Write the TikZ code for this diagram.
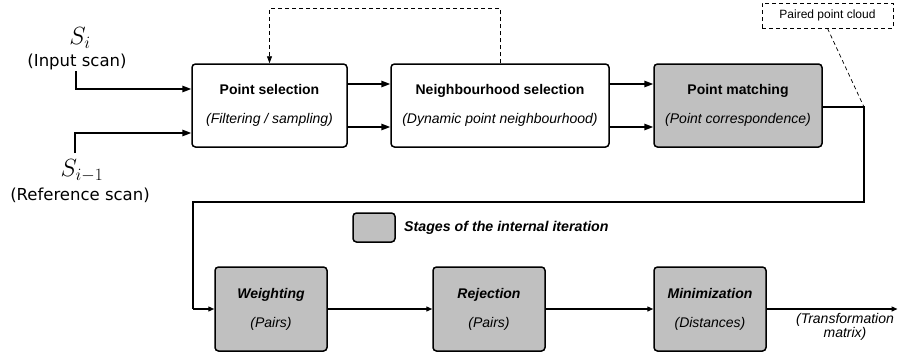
\documentclass[tikz,border=0pt]{standalone}
\usepackage{fontspec}
\setmainfont{Liberation Sans}
\newfontfamily\dejavu{DejaVu Sans}
\usetikzlibrary{arrows.meta,calc}
\definecolor{stagegray}{RGB}{192,192,192}
\begin{document}
\begin{tikzpicture}[x=1pt,y=-1pt,
  box/.style={draw=black,line width=1.5pt,rounded corners=3.5pt,align=center,inner sep=0pt,
    font=\fontsize{14}{16}\selectfont},
  gbox/.style={box,fill=stagegray},
  arr/.style={line width=1.5pt,-{Triangle[length=9pt,width=6.5pt]}},
  arrs/.style={line width=1.3pt,-{Triangle[length=6pt,width=5pt]}},
  conn/.style={line width=1.5pt},
  dashln/.style={line width=0.8pt,dash pattern=on 4pt off 3pt}]
\useasboundingbox (0,0) rectangle (898,354);
% top boxes
\node[box,minimum width=155pt,minimum height=83pt] (ps) at (269.5,105.5)
  {\textbf{Point selection}\\[13pt]\textit{(Filtering / sampling)}};
\node[box,minimum width=218pt,minimum height=83pt] (ns) at (500,105.5)
  {\textbf{Neighbourhood selection}\\[13pt]\textit{(Dynamic point neighbourhood)}};
\node[gbox,minimum width=168pt,minimum height=83pt] (pm) at (738,105.5)
  {\textbf{Point matching}\\[13pt]\textit{(Point correspondence)}};
% bottom boxes
\node[gbox,minimum width=112pt,minimum height=84pt] (wt) at (271,309)
  {\textbf{\textit{Weighting}}\\[13pt]\textit{(Pairs)}};
\node[gbox,minimum width=112pt,minimum height=84pt] (rj) at (489,309)
  {\textbf{\textit{Rejection}}\\[13pt]\textit{(Pairs)}};
\node[gbox,minimum width=112pt,minimum height=84pt] (mn) at (710,309)
  {\textbf{\textit{Minimization}}\\[13pt]\textit{(Distances)}};
% legend
\node[gbox,minimum width=42pt,minimum height=29pt] (lg) at (374,227.5) {};
\node[anchor=west,inner sep=0pt,font=\fontsize{14.2}{16}\selectfont\bfseries\itshape] (lgt) at (404,228)
  {Stages of the internal iteration};
% paired point cloud
\node[draw,dashln,minimum width=131pt,minimum height=25pt,inner sep=0pt,
  font=\fontsize{12}{14}\selectfont] (pc) at (827.5,15.5) {Paired point cloud};
% inputs
\node[font=\fontsize{25}{28}\selectfont] (si) at (80,38) {$S_i$};
\node[font=\dejavu\fontsize{16.5}{19}\selectfont,inner sep=0pt] (sil) at (77,62) {(Input scan)};
\node[font=\fontsize{25}{28}\selectfont,inner sep=0pt] (sr) at (82,171) {$S_{i-1}$};
\node[font=\dejavu\fontsize{16.5}{19}\selectfont,inner sep=0pt] (srl) at (80,195) {(Reference scan)};
% output label
\node[align=center,inner sep=0pt,font=\fontsize{14}{11.5}\selectfont\itshape] (tm) at (845,327)
  {(Transformation\\matrix)};
% coordinates
\coordinate (c1) at (864,107);
\coordinate (c2) at (864,202);
\coordinate (c3) at (193,202);
\coordinate (c4) at (193,309);
\coordinate (out) at (897.5,309);
\coordinate (inA) at (76,71);
\coordinate (inB) at (75,153);
% connectors
\draw[arr] (inA) |- (ps.west |- 0,89);
\draw[arr] (inB) |- (ps.west |- 0,133);
\draw[arr] (ps.east |- 0,84) -- (ns.west |- 0,84);
\draw[arr] (ps.east |- 0,127) -- (ns.west |- 0,127);
\draw[arr] (ns.east |- 0,84) -- (pm.west |- 0,84);
\draw[arr] (ns.east |- 0,127) -- (pm.west |- 0,127);
\draw[dashln,-{Triangle[length=7pt,width=5pt]}] (ns.north) -- ++(0,-55) -| (ps.north);
\draw[conn] (pm.east |- c1) -- (c1) -- (c2) -- (c3) -- (c4);
\draw[arrs] (c4) -- (wt.west);
\draw[dashln,line width=0.7pt] (pc.south) -- (c1);
\draw[arrs] (wt.east) -- (rj.west);
\draw[arrs] (rj.east) -- (mn.west);
\draw[arrs] (mn.east) -- (out);
\end{tikzpicture}
\end{document}
